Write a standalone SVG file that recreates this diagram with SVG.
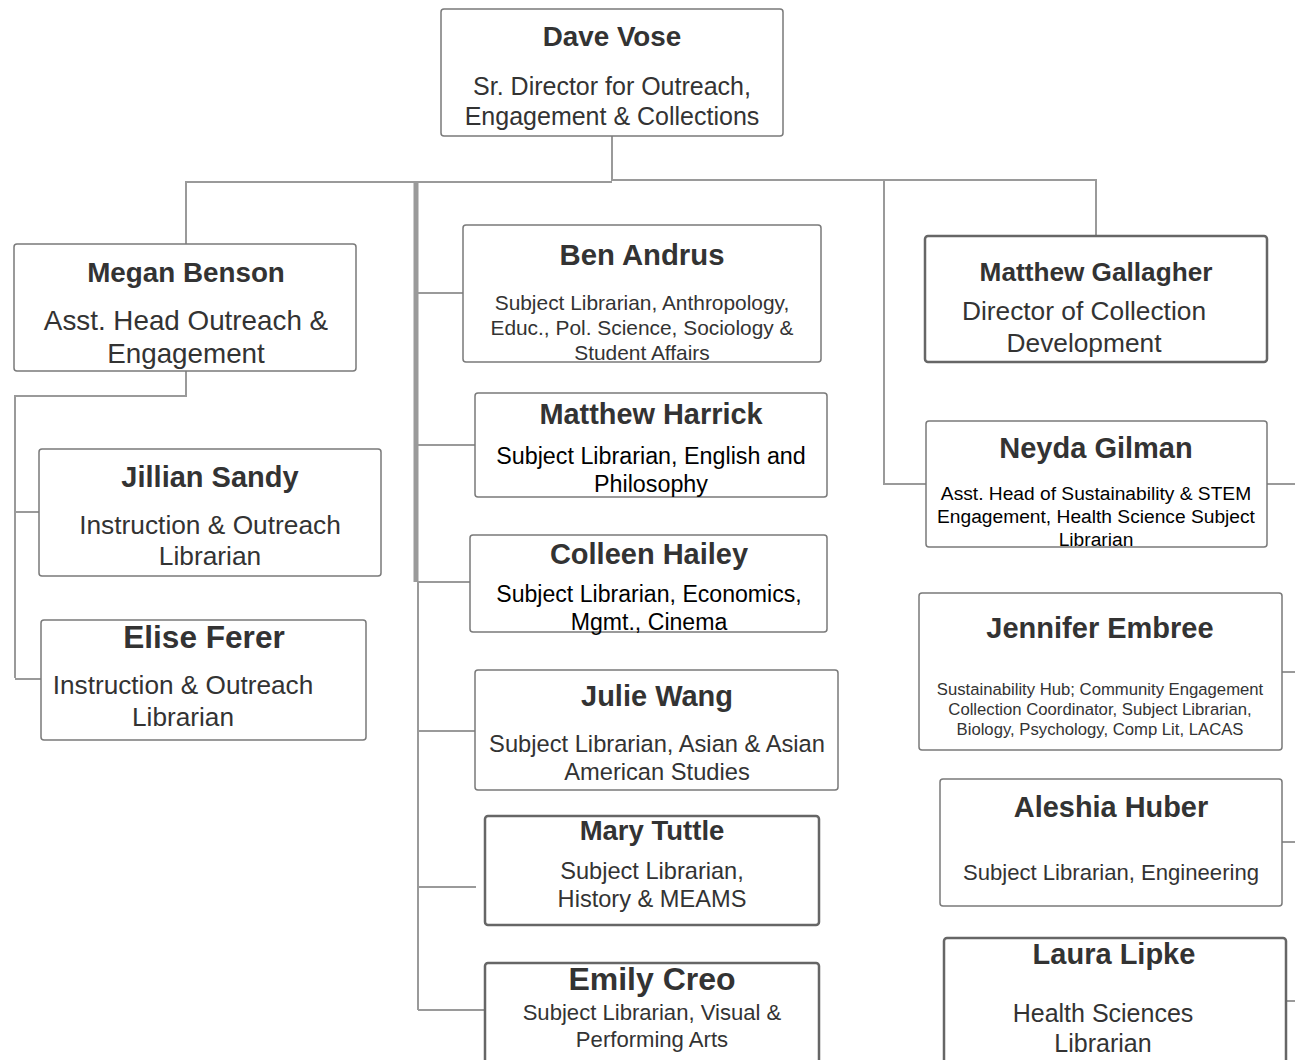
<svg xmlns="http://www.w3.org/2000/svg" width="1295" height="1060" viewBox="0 0 1295 1060">
<style>
.box{fill:#fff;stroke:#7a7a7a;stroke-width:1.5}
.bx2{fill:#fff;stroke:#666;stroke-width:2.5}
.c{fill:none;stroke:#9a9a9a;stroke-width:2}
.ct{fill:none;stroke:#9a9a9a;stroke-width:5}
text{font-family:"Liberation Sans",Arial,sans-serif;fill:#333;text-anchor:middle}
.t{font-weight:bold}
.k{fill:#000}
</style>
<rect width="1295" height="1060" fill="#fff"/>
<g id="connectors">
<path class="c" d="M612,136 V181 M612,182 H186 V244 M612,180 H1096 V240 M884,180 V484 H926"/>
<path class="c" d="M186,371 V396 H15 V678 M15,512 H39 M15,679 H41"/>
<path class="ct" d="M416,182 V582"/>
<path class="c" d="M418,582 V1010 M418,293 H463 M418,445 H475 M418,582 H470 M418,731 H475 M418,887 H476 M418,1010 H485"/>
<path class="c" d="M1267,484 H1295 M1282,672 H1295 M1282,842 H1295 M1286,1001 H1295"/>
</g>
<g id="dave-vose">
<rect class="box" x="441" y="9" width="342" height="127" rx="3"/>
<text class="t" x="612" y="46" font-size="27.8">Dave Vose</text>
<text x="612" y="95" font-size="25">Sr. Director for Outreach,</text>
<text x="612" y="125" font-size="25">Engagement &amp; Collections</text>
</g>
<g id="megan-benson">
<rect class="box" x="14" y="244" width="342" height="127" rx="3"/>
<text class="t" x="186" y="282" font-size="27.8">Megan Benson</text>
<text x="186" y="330" font-size="27.8">Asst. Head Outreach &amp;</text>
<text x="186" y="363" font-size="27.8">Engagement</text>
</g>
<g id="jillian-sandy">
<rect class="box" x="39" y="449" width="342" height="127" rx="3"/>
<text class="t" x="210" y="487" font-size="29">Jillian Sandy</text>
<text x="210" y="534" font-size="26.3">Instruction &amp; Outreach</text>
<text x="210" y="565" font-size="26.3">Librarian</text>
</g>
<g id="elise-ferer">
<rect class="box" x="41" y="620" width="325" height="120" rx="3"/>
<text class="t" x="204" y="648" font-size="31.6">Elise Ferer</text>
<text x="183" y="694" font-size="26.2">Instruction &amp; Outreach</text>
<text x="183" y="726" font-size="26.2">Librarian</text>
</g>
<g id="ben-andrus">
<rect class="box" x="463" y="225" width="358" height="137" rx="3"/>
<text class="t" x="642" y="265" font-size="29.3">Ben Andrus</text>
<text x="642" y="310" font-size="20.9">Subject Librarian, Anthropology,</text>
<text x="642" y="335" font-size="20.9">Educ., Pol. Science, Sociology &amp;</text>
<text x="642" y="360" font-size="20.9">Student Affairs</text>
</g>
<g id="matthew-harrick">
<rect class="box" x="475" y="393" width="352" height="104" rx="3"/>
<text class="t" x="651" y="424" font-size="28.9">Matthew Harrick</text>
<text class="k" x="651" y="464" font-size="23.3">Subject Librarian, English and</text>
<text class="k" x="651" y="492" font-size="23.3">Philosophy</text>
</g>
<g id="colleen-hailey">
<rect class="box" x="470" y="535" width="357" height="97" rx="3"/>
<text class="t" x="649" y="564" font-size="29">Colleen Hailey</text>
<text class="k" x="649" y="602" font-size="23.1">Subject Librarian, Economics,</text>
<text class="k" x="649" y="630" font-size="23.1">Mgmt., Cinema</text>
</g>
<g id="julie-wang">
<rect class="box" x="475" y="670" width="363" height="120" rx="3"/>
<text class="t" x="657" y="706" font-size="29">Julie Wang</text>
<text x="657" y="752" font-size="23.7">Subject Librarian, Asian &amp; Asian</text>
<text x="657" y="780" font-size="23.7">American Studies</text>
</g>
<g id="mary-tuttle">
<rect class="bx2" x="485" y="816" width="334" height="109" rx="3"/>
<text class="t" x="652" y="840" font-size="27.5">Mary Tuttle</text>
<text x="652" y="879" font-size="23.6">Subject Librarian,</text>
<text x="652" y="907" font-size="23.6">History &amp; MEAMS</text>
</g>
<g id="emily-creo">
<rect class="bx2" x="485" y="963" width="334" height="110" rx="3"/>
<text class="t" x="652" y="990" font-size="32">Emily Creo</text>
<text x="652" y="1020" font-size="22.1">Subject Librarian, Visual &amp;</text>
<text x="652" y="1047" font-size="22.1">Performing Arts</text>
</g>
<g id="matthew-gallagher">
<rect class="bx2" x="925" y="236" width="342" height="126" rx="3"/>
<text class="t" x="1096" y="281" font-size="26.2">Matthew Gallagher</text>
<text x="1084" y="320" font-size="26.3">Director of Collection</text>
<text x="1084" y="352" font-size="26.3">Development</text>
</g>
<g id="neyda-gilman">
<rect class="box" x="926" y="421" width="341" height="126" rx="3"/>
<text class="t" x="1096" y="458" font-size="29">Neyda Gilman</text>
<text class="k" x="1096" y="500" font-size="19.2">Asst. Head of Sustainability &amp; STEM</text>
<text class="k" x="1096" y="523" font-size="19.2">Engagement, Health Science Subject</text>
<text class="k" x="1096" y="546" font-size="19.2">Librarian</text>
</g>
<g id="jennifer-embree">
<rect class="box" x="919" y="593" width="363" height="157" rx="3"/>
<text class="t" x="1100" y="638" font-size="29">Jennifer Embree</text>
<text x="1100" y="695" font-size="16.7">Sustainability Hub; Community Engagement</text>
<text x="1100" y="715" font-size="16.7">Collection Coordinator, Subject Librarian,</text>
<text x="1100" y="735" font-size="16.7">Biology, Psychology, Comp Lit, LACAS</text>
</g>
<g id="aleshia-huber">
<rect class="box" x="940" y="779" width="342" height="127" rx="3"/>
<text class="t" x="1111" y="817" font-size="28.9">Aleshia Huber</text>
<text x="1111" y="880" font-size="22.1">Subject Librarian, Engineering</text>
</g>
<g id="laura-lipke">
<rect class="bx2" x="944" y="938" width="342" height="135" rx="3"/>
<text class="t" x="1114" y="964" font-size="29">Laura Lipke</text>
<text x="1103" y="1022" font-size="25">Health Sciences</text>
<text x="1103" y="1052" font-size="25">Librarian</text>
</g>
</svg>
